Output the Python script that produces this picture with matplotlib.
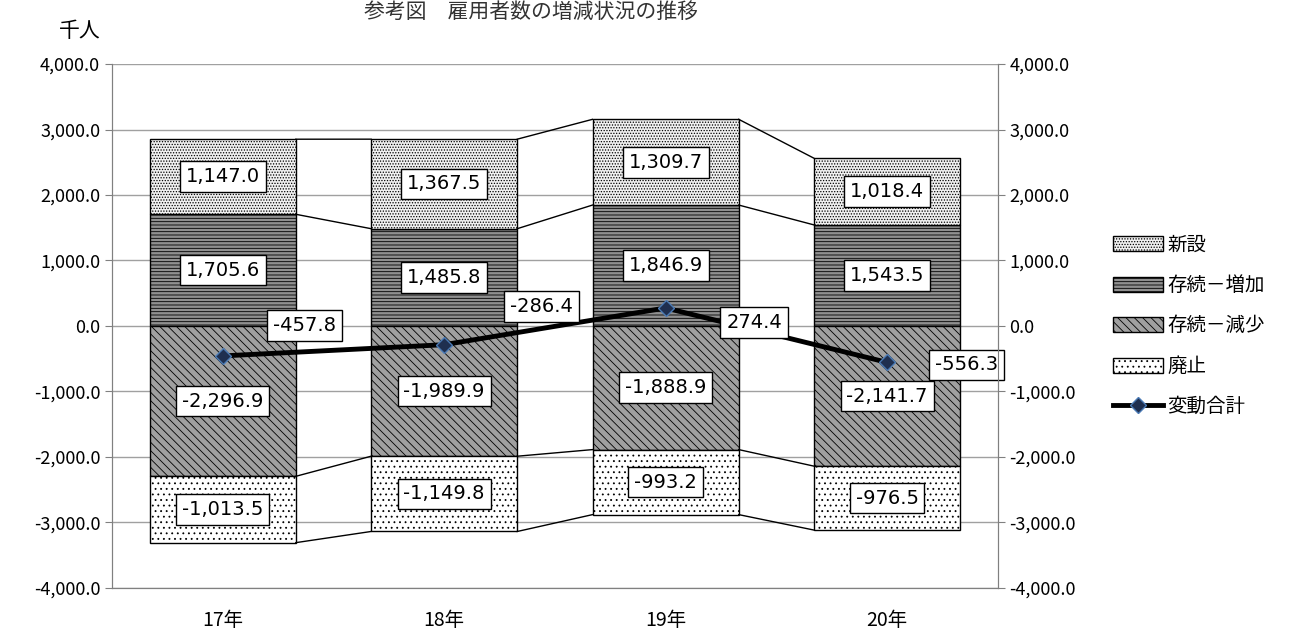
import matplotlib.pyplot as plt
import numpy as np
from matplotlib.ticker import FuncFormatter

plt.rcParams['font.family'] = ['Noto Sans CJK JP', 'DejaVu Sans']
plt.rcParams['hatch.linewidth'] = 0.6

# データ
years = ['17年', '18年', '19年', '20年']
shinsetsu = [1147.0, 1367.5, 1309.7, 1018.4]
zouka = [1705.6, 1485.8, 1846.9, 1543.5]
genshou = [-2296.9, -1989.9, -1888.9, -2141.7]
haishi = [-1013.5, -1149.8, -993.2, -976.5]
total = [-457.8, -286.4, 274.4, -556.3]

# 変動合計ラベルの位置ずらし (x, y)
lab_off = [(0.37, 460), (0.44, 580), (0.4, -220), (0.36, -40)]

x = np.arange(len(years))
w = 0.66

fig = plt.figure(figsize=(12.95, 6.41), dpi=100)
ax = fig.add_axes([0.0865, 0.083, 0.684, 0.817])

ax.set_axisbelow(True)
ax.yaxis.grid(True, color='#a0a0a0', lw=1)

zouka_a = np.array(zouka)
b1 = ax.bar(x, zouka, w, color='#909090', edgecolor='black', hatch='-----', lw=1, label='存続－増加')
b0 = ax.bar(x, shinsetsu, w, bottom=zouka, color='#f0f0f0', edgecolor='black', hatch='......', lw=1, label='新設')
b2 = ax.bar(x, genshou, w, color='#a0a0a0', edgecolor='black', hatch='\\\\\\\\', lw=1, label='存続－減少')
b3 = ax.bar(x, haishi, w, bottom=genshou, color='white', edgecolor='black', hatch='...', lw=1, label='廃止')

# 系列線
tops = [zouka_a + np.array(shinsetsu), zouka_a, np.array(genshou), np.array(genshou) + np.array(haishi)]
for lv in tops:
    for i in range(len(x) - 1):
        ax.plot([x[i] + w / 2, x[i + 1] - w / 2], [lv[i], lv[i + 1]], color='black', lw=1)

ln, = ax.plot(x, total, color='black', lw=3.5, marker='D', ms=8,
              markerfacecolor='#1f2f4f', markeredgecolor='#4a7ab5', label='変動合計')

box = dict(boxstyle='square,pad=0.3', fc='white', ec='black', lw=1)
kw = dict(ha='center', va='center', fontsize=14, bbox=box, family='DejaVu Sans')
for i in range(len(x)):
    ax.text(x[i], zouka[i] + shinsetsu[i] / 2, f'{shinsetsu[i]:,.1f}', **kw)
    ax.text(x[i], zouka[i] / 2, f'{zouka[i]:,.1f}', **kw)
    ax.text(x[i], genshou[i] / 2, f'{genshou[i]:,.1f}', **kw)
    ax.text(x[i], genshou[i] + haishi[i] / 2, f'{haishi[i]:,.1f}', **kw)
    dx, dy = lab_off[i]
    ax.text(x[i] + dx, total[i] + dy, f'{total[i]:,.1f}', **kw)

ax.set_xlim(-0.5, 3.5)
ax.set_ylim(-4000, 4000)
ax.set_yticks(np.arange(-4000, 4001, 1000))
fmt = FuncFormatter(lambda v, p: f'{v:,.1f}')
ax.yaxis.set_major_formatter(fmt)
ax.set_xticks(x)
ax.set_xticklabels(years, fontsize=14)
ax.tick_params(axis='x', length=0, pad=16)
ax.tick_params(axis='y', labelsize=13, length=5, color='#808080')
for s in ax.spines.values():
    s.set_color('#808080')
ax.spines['top'].set_visible(False)

ax2 = ax.twinx()
ax2.set_ylim(-4000, 4000)
ax2.set_yticks(np.arange(-4000, 4001, 1000))
ax2.yaxis.set_major_formatter(fmt)
ax2.tick_params(axis='y', labelsize=13, length=5, color='#808080')
for s in ax2.spines.values():
    s.set_color('#808080')
ax2.spines['top'].set_visible(False)

fig.text(0.062, 0.952, '千人', fontsize=15, ha='center', va='center')
fig.text(0.41, 0.998, '参考図　雇用者数の増減状況の推移', fontsize=15, ha='center', va='top', color='#333333')

ax.legend(handles=[b0, b1, b2, b3, ln], loc='center left', bbox_to_anchor=(1.11, 0.5),
          frameon=False, fontsize=14, handlelength=2.6, handleheight=0.8, labelspacing=1.0,
          handletextpad=0.2)

fig.savefig('out.png', dpi=100)
